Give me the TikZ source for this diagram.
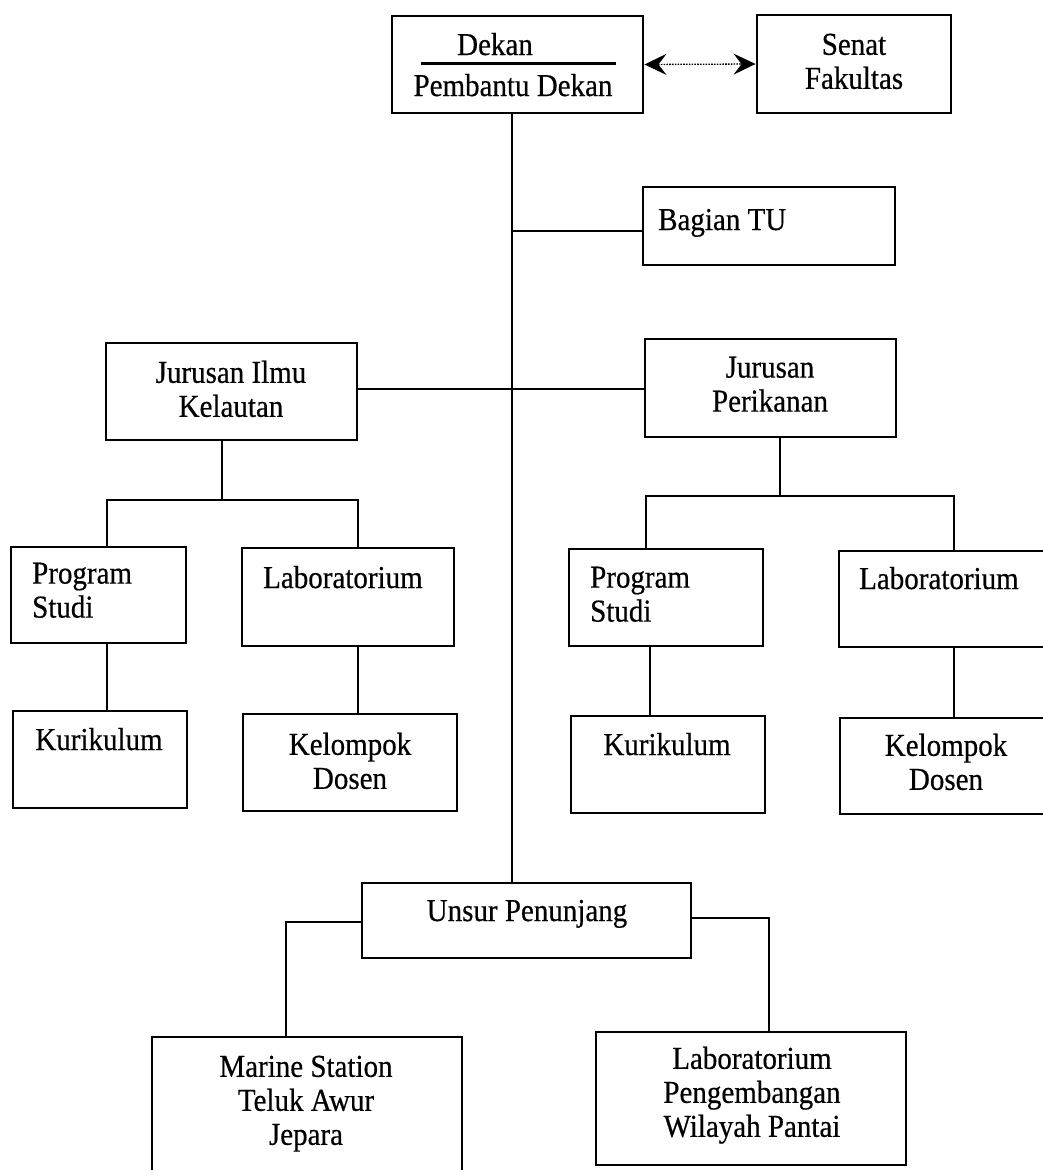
\documentclass[tikz,border=0pt]{standalone}
\usepackage{graphicx}
\usepackage{fontspec}
\setmainfont{Liberation Serif}[FakeBold=0.5]
\usetikzlibrary{arrows.meta,calc}
\newcommand\boxat[5]{\node[box, minimum width={(#4-#2)*1pt}, minimum height={(#5-#3)*1pt}] (#1) at ({(#2+#4)/2},{(#3+#5)/2}) {};}
\newcommand\tx[1]{\scalebox{1}[1.1]{#1}}
\begin{document}
\begin{tikzpicture}[x=1pt,y=-1pt,
  box/.style={draw, line width=2.9pt, inner sep=0pt, rectangle},
  conn/.style={line width=2.2pt},
  mainln/.style={line width=1.9pt},
  lbl/.style={inner sep=0pt, font=\fontsize{29}{34}\selectfont},
  dotline/.style={line width=1.3pt, dash pattern=on 1.6pt off 1.2pt},
  dblarrow/.style={>={Stealth[length=22pt, width=21pt, inset=8pt]}, <->}
]
\clip (0,0) rectangle (1043,1170);
\fill[white] (0,0) rectangle (1043,1170);

% boxes
\boxat{dekan}{392}{16}{643}{113}
\boxat{senat}{757}{15}{951}{113}
\boxat{bagian}{643}{187}{895}{265}
\boxat{ilmu}{106}{343}{357}{440}
\boxat{perik}{645}{339}{896}{437}
\boxat{ps1}{11}{547}{186}{643}
\boxat{lab1}{242}{548}{454}{646}
\boxat{ps2}{569}{549}{763}{646}
\boxat{lab2}{839}{551}{1062}{647}
\boxat{kur1}{13}{711}{187}{808}
\boxat{kel1}{243}{714}{457}{811}
\boxat{kur2}{571}{716}{765}{813}
\boxat{kel2}{840}{718}{1062}{814}
\boxat{unsur}{362}{883}{691}{958}
\boxat{marine}{152}{1037}{462}{1215}
\boxat{labp}{596}{1032}{906}{1165}

% texts
\node[lbl, anchor=base] (tdekan) at (495,55) {\tx{Dekan}};
\node[lbl, anchor=base] (tpd) at (513,96) {\tx{Pembantu Dekan}};
\draw[conn] ($(dekan.west)+(30,-1)$) -- ($(dekan.east)+(-28,-1)$);
\node[lbl, anchor=north, align=center] (tsenat) at (854,33.5) {\tx{Senat}\\\tx{Fakultas}};
\node[lbl, anchor=base west] (tbag) at (658,230) {\tx{Bagian TU}};
\node[lbl, anchor=north, align=center] (tilmu) at (231,360.5) {\tx{Jurusan Ilmu}\\\tx{Kelautan}};
\node[lbl, anchor=north, align=center] (tperik) at (770,356.5) {\tx{Jurusan}\\\tx{Perikanan}};
\node[lbl, anchor=north west, align=left] (tps1) at (32,562.5) {\tx{Program}\\\tx{Studi}};
\node[lbl, anchor=base west] (tlab1) at (263,588) {\tx{Laboratorium}};
\node[lbl, anchor=north west, align=left] (tps2) at (590,566.5) {\tx{Program}\\\tx{Studi}};
\node[lbl, anchor=base west] (tlab2) at (859,589) {\tx{Laboratorium}};
\node[lbl, anchor=base] (tkur1) at (99,750) {\tx{Kurikulum}};
\node[lbl, anchor=north, align=center] (tkel1) at (350,732.5) {\tx{Kelompok}\\\tx{Dosen}};
\node[lbl, anchor=base] (tkur2) at (667,755) {\tx{Kurikulum}};
\node[lbl, anchor=north, align=center] (tkel2) at (946,733.5) {\tx{Kelompok}\\\tx{Dosen}};
\node[lbl, anchor=base] (tunsur) at (527,921) {\tx{Unsur Penunjang}};
\node[lbl, anchor=north, align=center] (tmar) at (306,1055.5) {\tx{Marine Station}\\\tx{Teluk Awur}\\\tx{Jepara}};
\node[lbl, anchor=north, align=center] (tlabp) at (752,1046.5) {\tx{Laboratorium}\\\tx{Pengembangan}\\\tx{Wilayah Pantai}};

% dotted double arrow
\draw[dotline, dblarrow] (dekan.east) -- (senat.west);

% main spine
\coordinate (mx) at (512,0);
\draw[mainln] (dekan.south -| mx) -- (unsur.north -| mx);

% Bagian TU
\coordinate (tuy) at (0,231);
\draw[conn] (mx |- tuy) -- (bagian.west |- tuy);

% Jurusan link
\coordinate (jy) at (0,389);
\draw[conn] (ilmu.east |- jy) -- (perik.west |- jy);

% Ilmu Kelautan subtree
\coordinate (i1) at (222,500);
\coordinate (ps1x) at (107,0);
\coordinate (lab1x) at (358,0);
\draw[conn] (ilmu.south -| i1) -- (i1);
\draw[conn] (ps1.north -| ps1x) -- (ps1x |- i1) -- (lab1x |- i1) -- (lab1.north -| lab1x);
\draw[conn] (ps1.south -| ps1x) -- (kur1.north -| ps1x);
\draw[conn] (lab1.south -| lab1x) -- (kel1.north -| lab1x);

% Perikanan subtree
\coordinate (p1) at (780,496);
\coordinate (ps2x) at (646,0);
\coordinate (kur2x) at (650,0);
\coordinate (lab2x) at (954,0);
\draw[conn] (perik.south -| p1) -- (p1);
\draw[conn] (ps2.north -| ps2x) -- (ps2x |- p1) -- (lab2x |- p1) -- (lab2.north -| lab2x);
\draw[conn] (ps2.south -| kur2x) -- (kur2.north -| kur2x);
\draw[conn] (lab2.south -| lab2x) -- (kel2.north -| lab2x);

% Unsur Penunjang
\coordinate (ul) at (286,922);
\coordinate (ur) at (769,918);
\draw[conn] (unsur.west |- ul) -- (ul) -- (marine.north -| ul);
\draw[conn] (unsur.east |- ur) -- (ur) -- (labp.north -| ur);
\end{tikzpicture}
\end{document}
